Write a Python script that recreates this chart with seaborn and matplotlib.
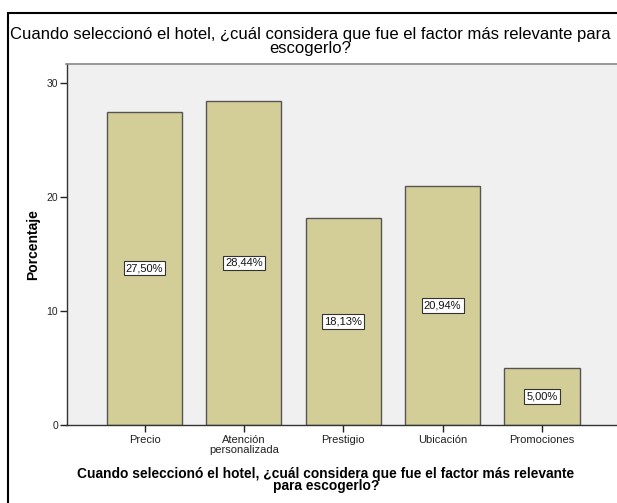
import matplotlib
matplotlib.use("Agg")
import matplotlib.pyplot as plt
import matplotlib.patches as mpatches
import seaborn as sns
import pandas as pd

categories = ["Precio", "Atención\npersonalizada", "Prestigio", "Ubicación", "Promociones"]
percentages = [27.50, 28.44, 18.13, 20.94, 5.00]
y_ticks = [0, 10, 20, 30]

title_line1 = "Cuando seleccionó el hotel, ¿cuál considera que fue el factor más relevante para"
title_line2 = "escogerlo?"
x_title = ("Cuando seleccionó el hotel, ¿cuál considera que fue el factor más relevante\n"
           "para escogerlo?")
y_title = "Porcentaje"

df = pd.DataFrame({"factor": categories, "pct": percentages})

sns.set_theme(style="white")
plt.rcParams["font.family"] = ["Liberation Sans", "DejaVu Sans"]

W, H = 617, 503
fig = plt.figure(figsize=(W / 100, H / 100), dpi=100)
fig.patch.set_facecolor("white")

ax = fig.add_axes([66.5 / W, 1 - 425 / H, (620 - 66.5) / W, (425 - 64) / H])
ax.set_facecolor("#F0F0F0")

sns.barplot(data=df, x="factor", y="pct", color="#D3CE97", width=0.755,
            edgecolor="#555555", linewidth=1.0, saturation=1, ax=ax)

ax.set_xlim(-0.785, 4.785)
ax.set_ylim(0, 31.67)
ax.set_yticks(y_ticks)
ax.set_yticklabels([str(t) for t in y_ticks], fontsize=7.5, color="#222222")
ax.tick_params(axis="x", labelsize=8, colors="#222222", length=5, width=1,
               direction="out", bottom=True, pad=2)
ax.tick_params(axis="y", length=5, width=1, direction="out", left=True, pad=1,
               colors="#222222")
for lbl in ax.get_xticklabels():
    lbl.set_color("#222222")
    lbl.set_linespacing(1.0)

for side in ["top", "right"]:
    ax.spines[side].set_color("#888888")
    ax.spines[side].set_linewidth(1.2)
for side in ["left", "bottom"]:
    ax.spines[side].set_color("#333333")
    ax.spines[side].set_linewidth(1.0)

ax.set_xlabel("")
ax.set_ylabel("")

# value labels centred in each bar
for i, v in enumerate(percentages):
    txt = f"{v:.2f}".replace(".", ",") + "%"
    ax.text(i, v / 2, txt, ha="center", va="center", fontsize=8, color="#111111",
            bbox=dict(boxstyle="square,pad=0.2", facecolor="white",
                      edgecolor="#333333", linewidth=0.8))

# chart title, two centred lines
fig.text(310 / W, 1 - 39 / H, title_line1, ha="center", va="baseline",
         fontsize=12, color="black")
fig.text(310 / W, 1 - 53 / H, title_line2, ha="center", va="baseline",
         fontsize=12, color="black")

# axis titles
fig.text(326 / W, 1 - 480 / H, x_title, ha="center", va="center",
         multialignment="center", fontsize=9.9, fontweight="bold",
         color="black", linespacing=0.85)
fig.text(33 / W, 1 - 245 / H, y_title, ha="center", va="center", rotation=90,
         fontsize=10, fontweight="bold", color="black")

# outer frame
frame = mpatches.Rectangle((7.5 / W, -0.1), 1.2, 1 - 13 / H + 0.1,
                           transform=fig.transFigure, fill=False,
                           edgecolor="black", linewidth=1.5, clip_on=False)
fig.patches.append(frame)

fig.savefig("out.png", dpi=100)
